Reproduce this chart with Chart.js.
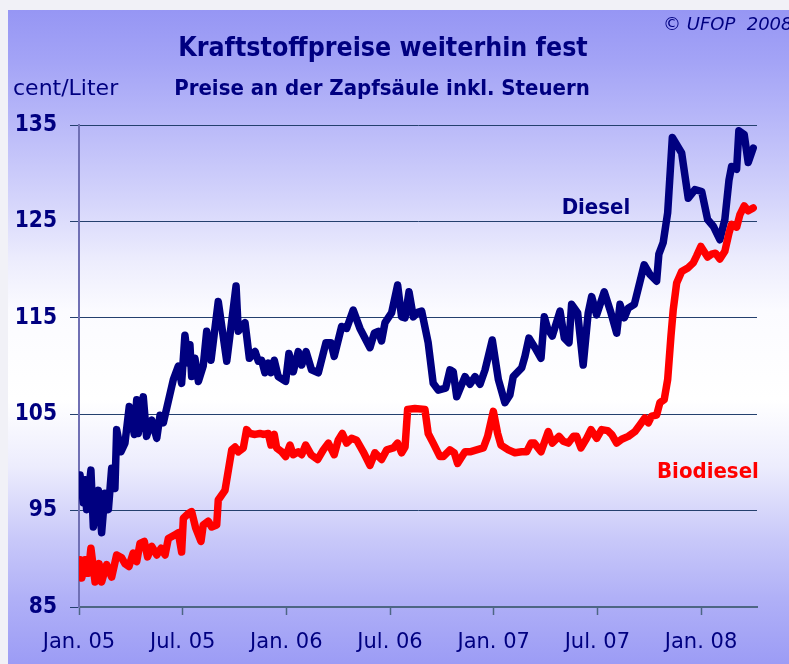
<!DOCTYPE html>
<html><head><meta charset="utf-8">
<script src="https://cdn.jsdelivr.net/npm/chart.js@4.4.1/dist/chart.umd.min.js"></script>
<style>html,body{margin:0;padding:0;background:#fff;overflow:hidden}#wrap{position:relative;width:789px;height:664px}</style>
</head><body><div id="wrap"><canvas id="c" width="789" height="664"></canvas></div>
<script>
// months since Jan. 2005
const dieselMonth = [0.06,0.25,0.35,0.44,0.69,0.83,1.12,1.31,1.50,1.70,1.89,2.08,2.18,2.43,2.66,2.91,3.20,3.34,3.43,3.72,3.91,4.21,4.50,4.69,4.88,5.46,5.75,5.94,6.13,6.33,6.42,6.52,6.71,6.91,7.19,7.39,7.64,8.06,8.55,9.09,9.22,9.61,9.86,10.19,10.38,10.57,10.76,10.95,11.11,11.30,11.53,11.96,12.15,12.40,12.69,12.89,13.14,13.46,13.85,14.29,14.58,14.77,15.20,15.49,15.87,16.26,16.84,17.09,17.32,17.51,17.71,18.09,18.44,18.67,18.87,19.10,19.35,19.64,19.83,20.21,20.50,20.79,21.22,21.47,21.66,21.86,22.34,22.63,22.92,23.21,23.50,23.92,24.27,24.65,24.94,25.13,25.62,25.81,26.04,26.39,26.74,26.93,27.12,27.39,27.84,28.09,28.36,28.51,28.86,29.18,29.47,29.67,29.96,30.40,30.79,31.12,31.31,31.56,31.79,32.14,32.71,33.04,33.43,33.56,33.81,34.07,34.34,34.88,35.26,35.65,36.04,36.38,36.71,37.09,37.38,37.62,37.77,38.06,38.19,38.50,38.73,39.02];
const dieselPrice = [98.7,95.8,98.2,95.1,99.2,93.3,97.1,92.7,96.8,95.1,99.4,97.3,103.4,101.1,102.0,105.8,102.9,106.5,103.0,106.8,102.7,104.4,102.5,104.9,104.1,108.6,110.0,108.2,113.2,110.3,112.2,108.9,110.8,108.4,110.0,113.6,110.6,116.7,110.5,118.3,113.6,114.5,110.8,111.5,110.5,110.6,109.3,110.3,109.3,110.6,108.9,108.4,111.3,109.4,111.5,110.1,111.5,109.6,109.3,112.4,112.4,111.0,114.1,113.9,115.8,113.9,111.9,113.4,113.6,112.6,114.5,115.5,118.4,115.1,115.0,117.7,115.1,115.6,115.7,112.4,108.2,107.5,107.7,109.6,109.4,106.8,108.9,108.1,108.9,108.1,109.6,112.7,108.6,106.2,107.0,108.9,109.8,111.0,112.9,111.9,110.8,115.1,113.9,113.1,115.7,112.9,112.4,116.4,115.5,110.1,115.5,117.2,115.3,117.7,115.5,113.4,116.4,115.0,116.0,116.4,120.5,119.5,118.8,121.6,122.8,125.9,133.7,132.1,127.4,128.3,128.1,125.2,124.5,123.1,125.2,129.3,130.7,130.4,134.4,134.0,131.1,132.6];
const biodieselMonth = [0.06,0.16,0.35,0.54,0.69,0.93,1.16,1.31,1.60,1.89,2.18,2.47,2.66,2.89,3.14,3.34,3.53,3.78,3.97,4.21,4.50,4.75,4.98,5.17,5.56,5.75,5.94,6.04,6.33,6.52,6.75,7.06,7.19,7.48,7.68,7.97,8.06,8.45,8.84,9.03,9.22,9.51,9.70,9.90,10.19,10.47,10.67,10.95,11.11,11.30,11.44,11.73,11.96,12.21,12.40,12.69,12.89,13.12,13.43,13.81,14.14,14.43,14.77,15.00,15.24,15.49,15.78,16.07,16.45,16.84,17.13,17.51,17.81,18.19,18.44,18.67,18.87,19.02,19.44,20.02,20.21,20.50,20.89,21.08,21.47,21.72,21.91,22.34,22.63,23.01,23.40,23.65,23.98,24.23,24.42,24.85,25.23,25.62,25.91,26.16,26.35,26.74,27.16,27.39,27.78,28.03,28.32,28.61,28.80,29.05,29.38,29.63,29.96,30.25,30.59,30.83,31.12,31.41,31.79,32.18,32.47,32.75,32.95,33.14,33.43,33.62,33.87,34.07,34.26,34.39,34.59,34.88,35.26,35.55,35.74,35.99,36.38,36.61,36.84,37.09,37.38,37.62,37.77,38.06,38.25,38.50,38.73,39.02];
const biodieselPrice = [89.9,88.0,89.9,88.5,91.1,87.6,89.5,87.6,89.4,88.1,90.4,90.1,89.5,89.2,90.6,89.7,91.6,91.8,90.2,91.3,90.4,91.1,90.4,92.1,92.5,92.7,90.7,94.2,94.7,94.9,93.2,91.8,93.5,93.9,93.3,93.5,96.1,97.1,101.3,101.6,101.1,101.5,103.4,103.0,102.9,103.0,102.9,103.0,101.8,102.9,101.5,101.1,100.6,101.8,100.8,101.1,100.8,101.8,100.8,100.3,101.3,102.0,100.8,102.3,103.0,102.0,102.5,102.3,101.1,99.7,101.0,100.3,101.3,101.5,102.0,101.0,101.6,105.5,105.6,105.5,103.0,102.0,100.6,100.6,101.3,101.0,99.9,101.1,101.1,101.3,101.5,102.7,105.3,103.0,101.8,101.3,101.0,101.1,101.1,102.0,102.0,101.1,103.2,102.0,102.7,102.2,102.0,102.7,102.7,101.5,102.5,103.4,102.5,103.4,103.3,102.9,102.0,102.4,102.7,103.2,103.9,104.6,104.1,104.8,104.9,106.2,106.5,108.6,113.1,115.8,118.6,119.8,120.2,120.7,121.4,122.4,121.3,121.6,121.7,121.1,121.9,123.8,124.7,124.4,125.7,126.6,126.1,126.4];
const xTickMonths = [0,6,12,18,24,30,36];
const xTickLabels = ['Jan. 05','Jul. 05','Jan. 06','Jul. 06','Jan. 07','Jul. 07','Jan. 08'];
const yTickValues = [85,95,105,115,125,135];
const seriesNames = ['Diesel','Biodiesel'];
const titleText = 'Kraftstoffpreise weiterhin fest';
const subtitleText = 'Preise an der Zapfsäule inkl. Steuern';
const unitText = 'cent/Liter';
const sourceText = '© UFOP  2008';

const toPoints = (xs, ys) => xs.map((x, i) => ({x, y: ys[i]}));
const NAVY = '#000080';
const COND = 'DejaVu Sans Condensed';
const REG = 'DejaVu Sans';

const bgPlugin = {
  id: 'bg',
  beforeDraw(chart) {
    const ctx = chart.ctx, W = chart.width, H = chart.height;
    ctx.save();
    ctx.fillStyle = '#f1f1f7';
    ctx.fillRect(0, 0, W, H);
    const g = ctx.createLinearGradient(0, 10, 0, H);
    g.addColorStop(0, '#9696f4');
    g.addColorStop(0.076, '#a3a3f6');
    g.addColorStop(0.153, '#b4b4f8');
    g.addColorStop(0.29, '#d4d4fb');
    g.addColorStop(0.38, '#ececfd');
    g.addColorStop(0.46, '#fbfbff');
    g.addColorStop(0.596, '#ffffff');
    g.addColorStop(0.70, '#ececfd');
    g.addColorStop(0.81, '#c8c8f9');
    g.addColorStop(0.90, '#b0b0f7');
    g.addColorStop(1, '#9c9cf5');
    ctx.fillStyle = g;
    ctx.fillRect(8, 10, W - 8, H - 10);
    ctx.restore();
  }
};

const textPlugin = {
  id: 'texts',
  afterDraw(chart) {
    const ctx = chart.ctx;
    const xs = chart.scales.x, ys = chart.scales.y;
    ctx.save();
    ctx.fillStyle = NAVY;
    ctx.textBaseline = 'alphabetic';
    ctx.textAlign = 'center';
    ctx.font = 'bold 26.5px "' + COND + '"';
    ctx.fillText(titleText, 383, 56);
    ctx.font = 'bold 22px "' + COND + '"';
    ctx.fillText(subtitleText, 382, 95);
    ctx.textAlign = 'left';
    ctx.font = '22px "' + REG + '"';
    ctx.fillText(unitText, 13, 95);
    ctx.font = 'italic 18px "' + REG + '"';
    ctx.fillText(sourceText, 663, 30);
    ctx.textAlign = 'center';
    ctx.textBaseline = 'middle';
    ctx.font = 'bold 22px "' + COND + '"';
    ctx.fillStyle = NAVY;
    ctx.fillText(seriesNames[0], xs.getPixelForValue(29.92), ys.getPixelForValue(126.4));
    ctx.fillStyle = '#ff0000';
    ctx.fillText(seriesNames[1], xs.getPixelForValue(36.4), ys.getPixelForValue(99.0));
    ctx.restore();
  }
};

new Chart(document.getElementById('c'), {
  type: 'line',
  data: {
    datasets: [
      {label: seriesNames[1], data: toPoints(biodieselMonth, biodieselPrice), borderColor: '#ff0000', borderWidth: 7.5, pointRadius: 0, tension: 0, borderJoinStyle: 'round', borderCapStyle: 'round'},
      {label: seriesNames[0], data: toPoints(dieselMonth, dieselPrice), borderColor: NAVY, borderWidth: 7.5, pointRadius: 0, tension: 0, borderJoinStyle: 'round', borderCapStyle: 'round'}
    ]
  },
  options: {
    responsive: false,
    animation: false,
    devicePixelRatio: 1,
    layout: {padding: {top: 125, right: 32, bottom: 0, left: 0}},
    plugins: {legend: {display: false}, tooltip: {enabled: false}, title: {display: false}},
    scales: {
      x: {
        type: 'linear', min: 0, max: 39.24,
        afterBuildTicks(s) { s.ticks = xTickMonths.map(v => ({value: v})); },
        afterFit(s) { s.height = 57; },
        ticks: {
          callback: (v) => { const i = xTickMonths.indexOf(v); return i >= 0 ? xTickLabels[i] : ''; },
          color: NAVY, font: {family: REG, size: 21}, padding: 15, maxRotation: 0, autoSkip: false
        },
        grid: {drawOnChartArea: false, drawTicks: true, tickLength: 8, color: '#4d6684', tickWidth: 1.5},
        border: {display: true, color: '#4d6684', width: 2}
      },
      y: {
        type: 'linear', min: 85, max: 135,
        afterBuildTicks(s) { s.ticks = yTickValues.map(v => ({value: v})); },
        afterFit(s) { s.width = 79; },
        ticks: {color: NAVY, font: {family: COND, size: 22.5, weight: 'bold'}, padding: 13},
        grid: {color: '#24406e', lineWidth: 1, tickLength: 9, drawTicks: true},
        border: {display: true, color: '#7070b4', width: 2}
      }
    }
  },
  plugins: [bgPlugin, textPlugin]
});
</script></body></html>
